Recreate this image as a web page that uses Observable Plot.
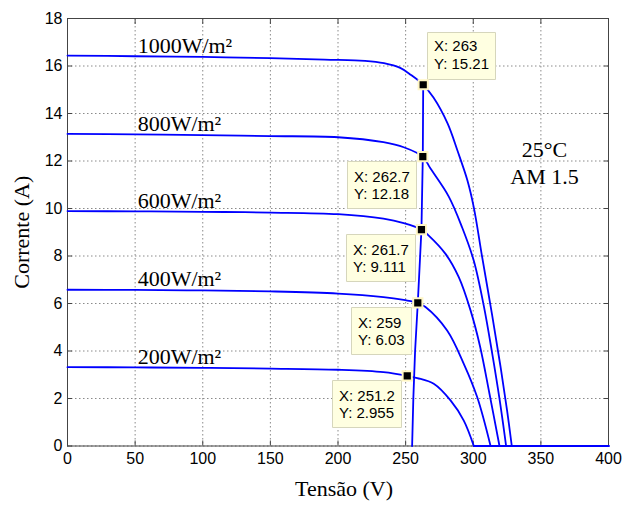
<!DOCTYPE html>
<html>
<head>
<meta charset="utf-8">
<script src="https://cdn.jsdelivr.net/npm/d3@7"></script>
<script src="https://cdn.jsdelivr.net/npm/@observablehq/plot@0.6"></script>
<style>
  html, body { margin: 0; padding: 0; background: #fff; }
  #chart g[aria-label="tip"], #chart g[aria-label="tip"] * { filter: none !important; }
</style>
</head>
<body>
<div id="chart"></div>
<script>
// ---- tick labels ----
const xTicks = [0, 50, 100, 150, 200, 250, 300, 350, 400];
const yTicks = [0, 2, 4, 6, 8, 10, 12, 14, 16, 18];

// ---- series (irradiance levels) ----
const seriesNames = ["1000W/m²", "800W/m²", "600W/m²", "400W/m²", "200W/m²"];

const voltage1000 = [0, 50, 100, 150, 190, 220, 234, 246, 254, 263, 270.6, 281, 288.3, 295.7, 300.4, 306.6, 314, 320, 325, 328.5];
const current1000 = [16.44, 16.41, 16.38, 16.33, 16.27, 16.22, 16.12, 15.92, 15.62, 15.21, 14.67, 13.58, 12.44, 11.18, 10.05, 7.95, 5.5, 3.4, 1.5, 0];

const voltage800 = [0, 50, 100, 150, 200, 233.6, 248.6, 262.7, 268.4, 281.9, 291.8, 300.4, 307.8, 314, 319.5, 324.3];
const current800 = [13.14, 13.12, 13.09, 13.05, 13.0, 12.79, 12.58, 12.18, 11.68, 10.5, 9.2, 7.8, 5.9, 3.9, 1.95, 0];

const voltage600 = [0, 50, 100, 150, 200, 233.6, 248.6, 261.7, 267.1, 279.5, 289.3, 298, 305, 312, 319.4];
const current600 = [9.89, 9.88, 9.86, 9.83, 9.76, 9.57, 9.38, 9.111, 8.86, 8.09, 7.11, 5.71, 4.2, 2.2, 0];

const voltage400 = [0, 50, 100, 150, 200, 233.6, 248.6, 259, 264.7, 280.7, 293, 302.9, 312.8];
const current400 = [6.58, 6.57, 6.55, 6.51, 6.42, 6.27, 6.15, 6.03, 5.85, 4.86, 3.46, 2.06, 0];

const voltage200 = [0, 50, 100, 150, 200, 233.6, 251.2, 258.6, 270.8, 283.2, 293, 300.4];
const current200 = [3.32, 3.31, 3.29, 3.26, 3.21, 3.11, 2.955, 2.86, 2.62, 1.92, 1.07, 0];

// ---- maximum power points (data tips) ----
const mppVoltage = [263, 262.7, 261.7, 259, 251.2];
const mppCurrent = [15.21, 12.18, 9.111, 6.03, 2.955];

// ---- locus line through the MPPs ----
const locusVoltage = [263, 262.7, 261.7, 259, 257, 255.7, 254.8];
const locusCurrent = [15.21, 12.18, 9.111, 6.03, 4, 2, 0];

// ---- conditions annotation ----
const conditionText = ["25°C", "AM 1.5"];
const conditionVoltage = 352.7;
const conditionCurrent = 11.96;

// ---- build tables ----
const voltages = [voltage1000, voltage800, voltage600, voltage400, voltage200];
const currents = [current1000, current800, current600, current400, current200];

const curveRows = seriesNames.flatMap((name, k) =>
  voltages[k].map((v, j) => ({name, v, i: currents[k][j]})));
const tailRows = seriesNames.flatMap((name, k) => [
  {name, v: voltages[k][voltages[k].length - 1], i: 0},
  {name, v: xTicks[xTicks.length - 1], i: 0}
]);
const labelRows = seriesNames.map((name, k) => ({name, v: voltages[k][1], i: currents[k][1]}));
const locusRows = locusVoltage.map((v, j) => ({v, i: locusCurrent[j]}));
const tipRows = mppVoltage.map((v, k) => ({v, i: mppCurrent[k], label: `X: ${v}\nY: ${mppCurrent[k]}`}));
const condRows = [{v: conditionVoltage, i: conditionCurrent, label: conditionText.join("\n")}];

const serif = "'Liberation Serif', 'Times New Roman', Times, serif";
const sans = "'Liberation Sans', Arial, Helvetica, sans-serif";
const axisColor = "#444";
const blue = "#0000ff";

const tipStyle = {
  x: "v", y: "i", title: "label",
  pointerSize: 0, textPadding: 6.5, fontSize: 15, lineHeight: 1.15,
  fill: "#ffffe1", stroke: "#d6d6bc", filter: null, fontFamily: sans
};

const chart = Plot.plot({
  width: 635,
  height: 505,
  marginLeft: 67,
  marginRight: 27,
  marginTop: 18,
  marginBottom: 59.5,
  style: {fontFamily: sans, fontSize: "16px", color: "#000", background: "#fff", overflow: "visible"},
  x: {domain: [0, 400], ticks: xTicks},
  y: {domain: [0, 18], ticks: yTicks},
  marks: [
    Plot.gridX(xTicks, {stroke: "#8a8a8a", strokeOpacity: 1, strokeDasharray: "1.5,2.5"}),
    Plot.gridY(yTicks, {stroke: "#8a8a8a", strokeOpacity: 1, strokeDasharray: "1.5,2.5"}),
    Plot.frame({stroke: axisColor}),
    // inward ticks on all four sides
    Plot.axisX(xTicks, {anchor: "bottom", tickSize: 5, dy: -5, fill: "none", stroke: axisColor}),
    Plot.axisX(xTicks, {anchor: "top", tickSize: 5, dy: 5, fill: "none", stroke: axisColor}),
    Plot.axisY(yTicks, {anchor: "left", tickSize: 5, dx: 5, fill: "none", stroke: axisColor}),
    Plot.axisY(yTicks, {anchor: "right", tickSize: 5, dx: -5, fill: "none", stroke: axisColor}),
    // tick labels
    Plot.axisX(xTicks, {anchor: "bottom", tickSize: 0, tickPadding: 7, label: null, fontSize: 16, fill: "#000"}),
    Plot.axisY(yTicks, {anchor: "left", tickSize: 0, tickPadding: 5, label: null, fontSize: 16, fill: "#000"}),
    // curves
    Plot.line(curveRows, {x: "v", y: "i", z: "name", stroke: blue, strokeWidth: 1.8, curve: "catmull-rom"}),
    Plot.line(tailRows, {x: "v", y: "i", z: "name", stroke: blue, strokeWidth: 1.8}),
    Plot.line(locusRows, {x: "v", y: "i", stroke: blue, strokeWidth: 1.8}),
    // data tips
    Plot.tip(tipRows.slice(0, 1), {...tipStyle, anchor: "bottom-left", dx: 4, dy: -5}),
    Plot.tip(tipRows.slice(1), {...tipStyle, anchor: "top-right", dx: -6, dy: 5}),
    Plot.dot(tipRows, {x: "v", y: "i", symbol: "square", r: 5.2, fill: "#000", stroke: "#fff6c4", strokeWidth: 2}),
    // series labels
    Plot.text(labelRows, {x: "v", y: "i", text: "name", textAnchor: "start", lineAnchor: "bottom",
      dx: 2.5, dy: -3.5, fontFamily: serif, fontSize: 22, fill: "#000"}),
    // conditions
    Plot.text(condRows, {x: "v", y: "i", text: "label", textAnchor: "middle", lineAnchor: "middle",
      lineHeight: 1.23, fontFamily: serif, fontSize: 22, fill: "#000"}),
    // axis titles
    Plot.text(["Tensão (V)"], {frameAnchor: "bottom", textAnchor: "middle", lineAnchor: "bottom",
      dx: 6, dy: 49.5, fontFamily: serif, fontSize: 22, fill: "#000"}),
    Plot.text(["Corrente (A)"], {frameAnchor: "left", textAnchor: "middle", lineAnchor: "bottom",
      rotate: -90, dx: -39, fontFamily: serif, fontSize: 22, fill: "#000"})
  ]
});

document.getElementById("chart").appendChild(chart);
</script>
</body>
</html>
